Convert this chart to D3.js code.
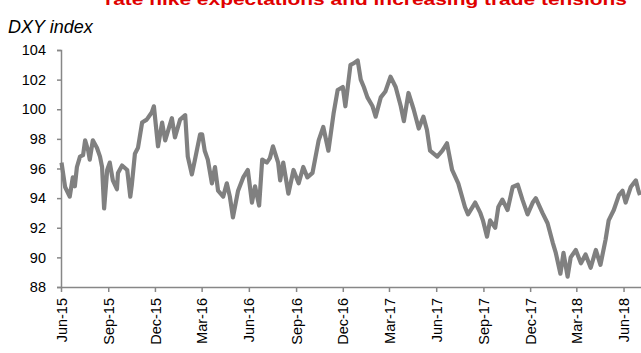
<!DOCTYPE html>
<html>
<head>
<meta charset="utf-8">
<script src="https://cdn.jsdelivr.net/npm/d3@7"></script>
<style>
  body { margin: 0; background: #fff; }
  text { font-family: "Liberation Sans", Arial, sans-serif; }
</style>
</head>
<body>
<div id="chart"></div>
<script>
// DXY index
const dates = [
  '2015-06-02','2015-06-09','2015-06-18','2015-06-24','2015-06-28','2015-07-02','2015-07-08','2015-07-14',
  '2015-07-18','2015-07-24','2015-07-27','2015-08-02','2015-08-10','2015-08-16','2015-08-20','2015-08-24',
  '2015-08-30','2015-09-04','2015-09-10','2015-09-18','2015-09-20','2015-09-28','2015-10-08','2015-10-14',
  '2015-10-17','2015-10-23','2015-10-29','2015-11-06','2015-11-15','2015-11-25','2015-11-29','2015-12-07',
  '2015-12-15','2015-12-21','2016-01-03','2016-01-09','2016-01-19','2016-01-29','2016-02-03','2016-02-11',
  '2016-02-17','2016-02-27','2016-03-02','2016-03-07','2016-03-13','2016-03-21','2016-03-27','2016-04-02',
  '2016-04-12','2016-04-19','2016-04-25','2016-05-01','2016-05-11','2016-05-21','2016-05-30','2016-06-07',
  '2016-06-13','2016-06-21','2016-06-27','2016-07-06','2016-07-12','2016-07-18','2016-07-28','2016-08-01',
  '2016-08-07','2016-08-17','2016-08-27','2016-09-06','2016-09-15','2016-09-23','2016-10-03','2016-10-09',
  '2016-10-15','2016-10-24','2016-11-03','2016-11-13','2016-11-21','2016-12-01','2016-12-06','2016-12-10',
  '2016-12-16','2016-12-22','2016-12-30','2017-01-05','2017-01-11','2017-01-18','2017-01-28','2017-02-03',
  '2017-02-13','2017-02-22','2017-03-04','2017-03-14','2017-03-24','2017-03-30','2017-04-08','2017-04-18',
  '2017-04-28','2017-05-07','2017-05-14','2017-05-20','2017-06-03','2017-06-13','2017-06-22','2017-07-02',
  '2017-07-14','2017-07-27','2017-08-02','2017-08-16','2017-08-26','2017-08-31','2017-09-08','2017-09-14',
  '2017-09-24','2017-09-30','2017-10-08','2017-10-18','2017-10-28','2017-11-07','2017-11-16','2017-11-26',
  '2017-12-06','2017-12-12','2017-12-25','2018-01-04','2018-01-14','2018-01-20','2018-01-29','2018-02-04',
  '2018-02-12','2018-02-18','2018-02-28','2018-03-10','2018-03-19','2018-03-29','2018-04-08','2018-04-17',
  '2018-04-27','2018-05-03','2018-05-13','2018-05-23','2018-05-30','2018-06-05','2018-06-15','2018-06-25',
  '2018-06-30','2018-07-03'
];
const dxy = [
  96.4, 94.75, 94.1, 95.4, 94.8, 96.1, 96.8, 96.9,
  97.9, 97.2, 96.6, 97.9, 97.4, 96.8, 96.1, 93.3,
  95.9, 96.4, 95.2, 94.6, 95.7, 96.2, 95.9, 94.1,
  94.9, 97.0, 97.4, 99.1, 99.3, 99.8, 100.2, 97.5,
  99.1, 97.9, 99.4, 98.1, 99.3, 99.6, 96.8, 95.6,
  96.6, 98.3, 98.3, 97.2, 96.6, 95.0, 96.1, 94.5,
  94.1, 95.0, 94.1, 92.7, 94.5, 95.4, 95.9, 93.7,
  94.8, 93.5, 96.6, 96.4, 96.7, 97.5, 96.4, 95.2,
  96.4, 94.3, 95.9, 95.0, 96.1, 95.4, 95.7, 96.8,
  97.9, 98.8, 97.2, 99.7, 101.3, 101.5, 100.2, 101.3,
  103.0, 103.1, 103.3, 102.0, 101.5, 100.8, 100.2, 99.5,
  100.8, 101.2, 102.2, 101.5, 100.2, 99.2, 101.1, 100.0,
  98.7, 99.5, 98.6, 97.2, 96.8, 97.2, 97.7, 95.9,
  95.0, 93.4, 92.9, 93.7, 93.0, 92.5, 91.4, 92.5,
  92.0, 93.4, 93.9, 93.2, 94.75, 94.9, 93.9, 92.9,
  93.7, 94.0, 93.0, 92.3, 91.0, 90.3, 88.9, 90.3,
  88.7, 90.0, 90.5, 89.6, 90.2, 89.3, 90.5, 89.5,
  91.2, 92.5, 93.2, 94.2, 94.5, 93.7, 94.75, 95.2,
  94.5, 94.2
];
const yTicks = [88, 90, 92, 94, 96, 98, 100, 102, 104];
const xTicks = ['2015-06-01','2015-09-01','2015-12-01','2016-03-01','2016-06-01','2016-09-01','2016-12-01',
  '2017-03-01','2017-06-01','2017-09-01','2017-12-01','2018-03-01','2018-06-01'];
const title = 'rate hike expectations and increasing trade tensions';
const yLabel = 'DXY index';

const W = 641, H = 353;
const margin = { top: 50, right: 0, bottom: 66, left: 61 };
const width = W - margin.left - margin.right;
const height = H - margin.top - margin.bottom;

const parse = d3.timeParse('%Y-%m-%d');
const data = dates.map((d, i) => ({ date: parse(d), v: dxy[i] }));

const x = d3.scaleTime()
  .domain([parse('2015-06-01'), parse('2018-07-05')])
  .range([0, width]);
const y = d3.scaleLinear()
  .domain([88, 104])
  .range([height, 0]);

const svg = d3.select('#chart').append('svg')
  .attr('width', W)
  .attr('height', H);

// title is cropped at the top in the reference
svg.append('text')
  .attr('x', 105)
  .attr('y', 5)
  .attr('fill', '#e00000')
  .style('font-size', '17px')
  .style('font-weight', 'bold')
  .attr('textLength', 522)
  .attr('lengthAdjust', 'spacingAndGlyphs')
  .text(title);

svg.append('text')
  .attr('x', 8)
  .attr('y', 33)
  .attr('fill', '#000')
  .style('font-size', '18px')
  .style('font-style', 'italic')
  .text(yLabel);

const g = svg.append('g')
  .attr('transform', 'translate(' + margin.left + ',' + margin.top + ')');

const yAxis = d3.axisLeft(y)
  .tickValues(yTicks)
  .tickSize(4)
  .tickPadding(11)
  .tickFormat(d3.format('d'));

const gy = g.append('g').call(yAxis);
gy.select('.domain').attr('stroke', '#878787').attr('stroke-width', 1.5);
gy.selectAll('.tick line').attr('stroke', '#878787').attr('stroke-width', 1.5);
gy.selectAll('.tick text').attr('fill', '#000').style('font-size', '14.5px').style('font-family', '"Liberation Sans", Arial, sans-serif');

const xAxis = d3.axisBottom(x)
  .tickValues(xTicks.map(parse))
  .tickSize(5)
  .tickSizeOuter(0)
  .tickFormat(d3.timeFormat('%b-%y'));

const gx = g.append('g')
  .attr('transform', 'translate(0,' + height + ')')
  .call(xAxis);
gx.select('.domain').attr('stroke', '#878787').attr('stroke-width', 1.5);
gx.selectAll('.tick line').attr('stroke', '#878787').attr('stroke-width', 1.5);
gx.selectAll('.tick text')
  .attr('fill', '#000')
  .style('font-size', '14.5px')
  .style('font-family', '"Liberation Sans", Arial, sans-serif')
  .style('text-anchor', 'end')
  .attr('x', -11)
  .attr('y', 0)
  .attr('dy', '0.35em')
  .attr('transform', 'rotate(-90)');

const line = d3.line()
  .x(d => x(d.date))
  .y(d => y(d.v));

g.append('path')
  .datum(data)
  .attr('fill', 'none')
  .attr('stroke', '#808080')
  .attr('stroke-width', 4.2)
  .attr('stroke-linejoin', 'round')
  .attr('d', line);
</script>
</body>
</html>
